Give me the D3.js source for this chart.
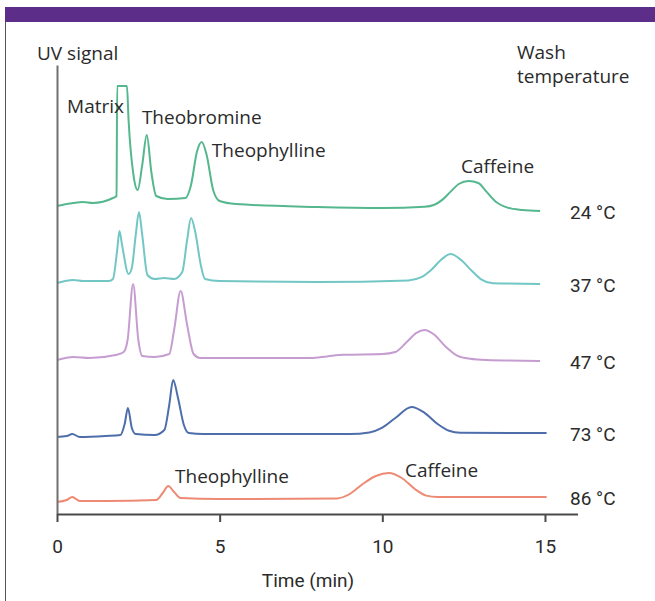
<!DOCTYPE html>
<html>
<head>
<meta charset="utf-8">
<script src="https://cdn.jsdelivr.net/npm/d3@7/dist/d3.min.js"></script>
<style>
  html, body { margin: 0; padding: 0; background: #fff; }
  svg { display: block; }
</style>
</head>
<body>
<svg id="chart" width="655" height="601"></svg>
<script>
// ---------- DATA (time in min, UV signal in arbitrary units, traces stacked) ----------
const temperatures = ["24 °C", "37 °C", "47 °C", "73 °C", "86 °C"];
const xTicks = [0, 5, 10, 15];

const trace24 = [
  [0, 77], [0.5, 77.75], [0.8, 78], [1.1, 77.75], [1.72, 79], [1.83, 79.5],
  [1.85, 107], [2.15, 107], [2.2, 98.5], [2.35, 84.75], [2.48, 81], [2.62, 87.25],
  [2.76, 94.75], [2.9, 85.5], [3.05, 79.5], [3.4, 78.75], [3.95, 79], [4.12, 82.25],
  [4.3, 90.5], [4.45, 93], [4.6, 89.75], [4.8, 81], [5.0, 78.25], [5.5, 77.5],
  [8, 76.75], [10, 76.5], [11.3, 76.8], [11.6, 77.3], [11.85, 78.6], [12.1, 80.6],
  [12.35, 82.5], [12.65, 83.25], [12.95, 82.75], [13.2, 80.6], [13.5, 78],
  [13.85, 76.6], [14.3, 76], [14.85, 75.75]
];
const trace37 = [
  [0, 57.75], [0.5, 58.5], [0.8, 58.25], [1.6, 58.25], [1.72, 58.75], [1.85, 66],
  [1.92, 70.75], [2.0, 67.25], [2.2, 60], [2.3, 61.5], [2.42, 69.75], [2.52, 75.5],
  [2.62, 69.75], [2.78, 59.75], [3.0, 58.75], [3.3, 59], [3.6, 58.75], [3.85, 60.5],
  [4.0, 68.5], [4.12, 74], [4.25, 70.5], [4.42, 62.25], [4.55, 58.75], [5.0, 58.25],
  [8, 58], [10.8, 58.4], [11.2, 59.2], [11.5, 61], [11.8, 63.5], [12.1, 65],
  [12.45, 63.3], [12.75, 60.8], [13.05, 58.6], [13.4, 57.7], [14.85, 57.5]
];
const trace47 = [
  [0, 38.5], [0.5, 39.25], [1.0, 39], [1.8, 39.75], [2.05, 40.5], [2.17, 43.5],
  [2.34, 57.5], [2.5, 43.5], [2.62, 39.5], [3.0, 39.25], [3.45, 40], [3.6, 46],
  [3.8, 55.75], [4.0, 47.25], [4.2, 40], [4.4, 39], [6, 39], [7.8, 39], [8.3, 39.4],
  [8.8, 39.8], [10.0, 40], [10.4, 40.5], [10.75, 43], [11.05, 45.3], [11.3, 46],
  [11.6, 44.8], [11.95, 41.8], [12.3, 39.6], [12.7, 38.8], [13.2, 38.5], [14.85, 38.25]
];
const trace73 = [
  [0, 19.25], [0.3, 19.5], [0.47, 20], [0.7, 19.25], [1.5, 19.5], [1.95, 19.75],
  [2.08, 22.5], [2.18, 26.5], [2.3, 21.5], [2.42, 20], [3.0, 19.75], [3.3, 21],
  [3.45, 27.25], [3.57, 33.5], [3.72, 29], [3.9, 22.25], [4.05, 20.25], [4.5, 20],
  [9, 20], [9.6, 20.4], [10.0, 21.6], [10.4, 24], [10.9, 26.75], [11.3, 25.3],
  [11.7, 22.5], [12.05, 20.8], [12.4, 20.3], [15.05, 20.25]
];
const trace86 = [
  [0, 3], [0.3, 3.5], [0.47, 4.25], [0.7, 3.25], [1.5, 3.25], [3.05, 3.5],
  [3.25, 5.25], [3.42, 7], [3.6, 5.5], [3.8, 4], [5, 3.75], [8.6, 3.9],
  [9.0, 5], [9.4, 7.5], [9.8, 9.5], [10.2, 10.25], [10.6, 9], [11.0, 6.25],
  [11.35, 4.6], [11.7, 4.25], [15.05, 4.25]
];
const traces = [trace24, trace37, trace47, trace73, trace86];

// peak annotations: name, time, signal
const peakNames = ["Matrix", "Theobromine", "Theophylline", "Caffeine", "Theophylline", "Caffeine"];
const peakTimes = [0.31, 2.61, 4.76, 12.42, 3.63, 10.7];
const peakSignals = [100.25, 97.5, 89.25, 85.25, 7.75, 9.25];

const traceColors = ["#55b78d", "#72c7c5", "#c69dd0", "#4d6eab", "#ee8a74"];

// ---------- LAYOUT ----------
const svg = d3.select("#chart");
const x = d3.scaleLinear().domain([0, 16]).range([57, 577.5]);
const y = d3.scaleLinear().domain([0, 112.25]).range([514, 65]);

const textFont = "'Open Sans', 'Noto Sans', sans-serif";
const numFont = "Roboto, 'Liberation Sans', sans-serif";
const textColor = "#2b2b2b";

// frame: purple band and left rule
svg.append("rect").attr("x", 5).attr("y", 7).attr("width", 650).attr("height", 15).attr("fill", "#5c2e8a");
svg.append("line").attr("x1", 5.5).attr("x2", 5.5).attr("y1", 22).attr("y2", 601)
  .attr("stroke", "#555").attr("stroke-width", 1);

// traces
const line = d3.line().x(d => x(d[0])).y(d => y(d[1])).curve(d3.curveMonotoneX);
svg.append("g").selectAll("path").data(traces).join("path")
  .attr("d", line)
  .attr("fill", "none")
  .attr("stroke", (d, i) => traceColors[i])
  .attr("stroke-width", 2)
  .attr("stroke-linejoin", "round");

// axes
const yAxis = svg.append("g").attr("transform", `translate(${x(0)},0)`)
  .call(d3.axisLeft(y).tickValues([]).tickSizeOuter(0));
yAxis.select(".domain").attr("stroke", "#707070").attr("stroke-width", 2);

const xAxis = svg.append("g").attr("transform", `translate(0,${y(0)})`)
  .call(d3.axisBottom(x).tickValues(xTicks).tickSize(8).tickSizeOuter(0).tickPadding(17.5));
xAxis.select(".domain").attr("stroke", "#4a4a4a").attr("stroke-width", 2);
xAxis.selectAll(".tick line").attr("stroke", "#4a4a4a").attr("stroke-width", 2);
xAxis.selectAll(".tick text").attr("font-family", numFont).attr("font-size", 19).attr("fill", textColor);

// axis titles
svg.append("text").attr("x", 37).attr("y", 60).text("UV signal")
  .attr("font-family", textFont).attr("font-size", 19).attr("fill", textColor);
svg.append("text").attr("x", 517).attr("y", 59).text("Wash")
  .attr("font-family", textFont).attr("font-size", 19).attr("fill", textColor);
svg.append("text").attr("x", 517).attr("y", 83).text("temperature")
  .attr("font-family", textFont).attr("font-size", 19).attr("fill", textColor);
svg.append("text").attr("x", 308).attr("y", 587).attr("text-anchor", "middle").text("Time (min)")
  .attr("font-family", numFont).attr("font-size", 19).attr("fill", textColor);

// temperature labels at trace ends
svg.append("g").selectAll("text").data(temperatures).join("text")
  .attr("x", x(15) + 25)
  .attr("y", (d, i) => y(traces[i][traces[i].length - 1][1]) + 8)
  .text(d => d)
  .attr("font-family", numFont).attr("font-size", 19).attr("fill", textColor);

// peak labels
svg.append("g").selectAll("text").data(peakNames).join("text")
  .attr("x", (d, i) => x(peakTimes[i]))
  .attr("y", (d, i) => y(peakSignals[i]))
  .text(d => d)
  .attr("font-family", textFont).attr("font-size", 19).attr("fill", textColor);
</script>
</body>
</html>
